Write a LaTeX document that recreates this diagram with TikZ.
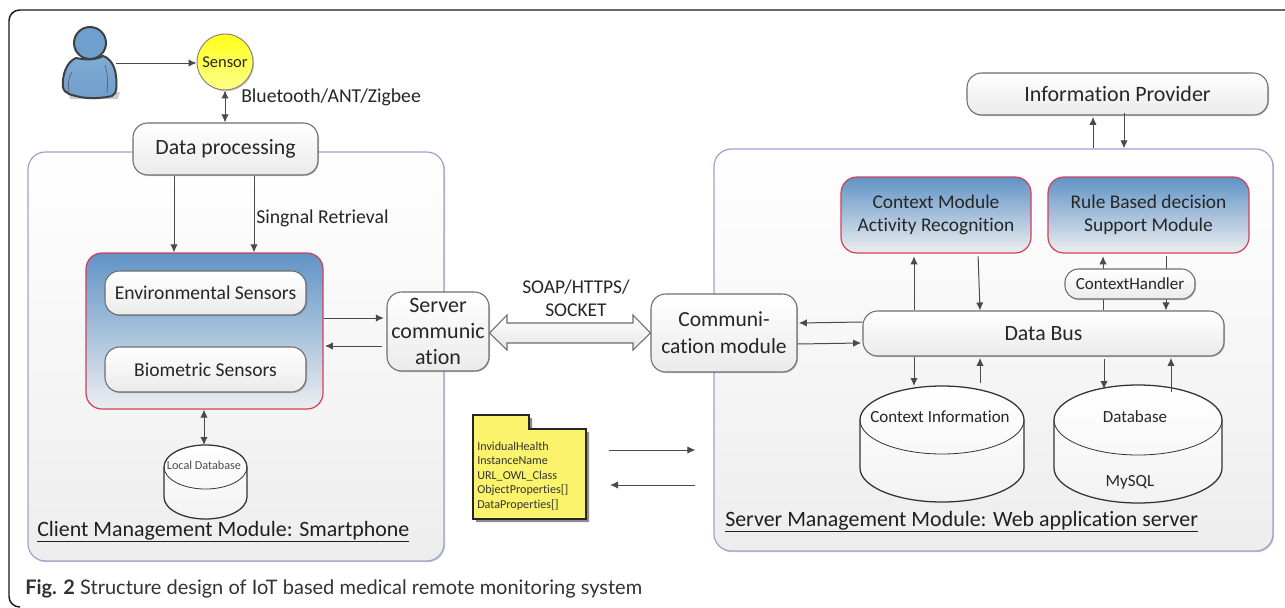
\documentclass[tikz,border=0pt]{standalone}
\usepackage{fontspec}
\setmainfont[RawFeature={-liga,-clig}]{Carlito}
\newfontfamily\capfont{Lato}
\usetikzlibrary{arrows.meta,calc,shadows}
\definecolor{linegrey}{HTML}{4A4A4A}
\definecolor{boxedge}{HTML}{6E6E6E}
\definecolor{paneledge}{HTML}{9AA5CC}
\definecolor{rededge}{HTML}{D0405A}
\definecolor{bluetop}{HTML}{6093C6}
\definecolor{bluebot}{HTML}{ECEEF0}
\definecolor{folderfill}{HTML}{FBF36C}
\definecolor{personblue}{HTML}{6F9FCC}
\definecolor{personlight}{HTML}{7FABD4}
\newcommand{\fpx}[1]{\pgfmathsetmacro\fszpt{#1*0.75}\fontsize{\fszpt}{\fszpt}\selectfont}
\newcommand{\pxbox}[7]{%
  \pgfmathsetmacro\bcx{(#3+#5)/2}\pgfmathsetmacro\bcy{(#4+#6)/2}%
  \pgfmathsetmacro\bw{(#5-#3)*0.75}\pgfmathsetmacro\bh{(#6-#4)*0.75}%
  \node[#2,minimum width=\bw pt,minimum height=\bh pt] (#1) at (\bcx,\bcy) {#7};}
\newcommand{\pxcyl}[6]{% name, cx, rx, top, ry, bottom
  \pgfmathsetmacro\yta{#4+#5}\pgfmathsetmacro\ytb{#6-#5}%
  \pgfmathsetmacro\rxp{#3*0.75}\pgfmathsetmacro\ryp{#5*0.75}%
  \pgfmathsetmacro\xl{#2-#3}\pgfmathsetmacro\xr{#2+#3}%
  \path[cylfill] (\xl,\yta) -- (\xl,\ytb) arc[start angle=180,end angle=360,x radius=\rxp pt,y radius=\ryp pt]
    -- (\xr,\yta) arc[start angle=0,end angle=180,x radius=\rxp pt,y radius=\ryp pt] -- cycle;
  \draw[cylline] (\xl,\yta) -- (\xl,\ytb) arc[start angle=180,end angle=360,x radius=\rxp pt,y radius=\ryp pt]
    -- (\xr,\yta) arc[start angle=0,end angle=180,x radius=\rxp pt,y radius=\ryp pt];
  \draw[cylline,line width=0.6pt] (\xl,\yta) arc[start angle=180,end angle=360,x radius=\rxp pt,y radius=\ryp pt];
  \pgfmathsetmacro\bcy{(#4+#6)/2}\pgfmathsetmacro\bw{2*#3*0.75}\pgfmathsetmacro\bh{(#6-#4)*0.75}%
  \node[inner sep=0pt,outer sep=0pt,minimum width=\bw pt,minimum height=\bh pt] (#1) at (#2,\bcy) {};}
\tikzset{
  softshadow/.style={drop shadow={shadow xshift=0.8pt,shadow yshift=-0.9pt,opacity=.22,fill=black}},
  panelbox/.style={rectangle,rounded corners=13pt,draw=paneledge,line width=0.9pt,top color=white,bottom color=black!7,softshadow,inner sep=0pt},
  whitebox/.style={rectangle,rounded corners=11pt,draw=boxedge,line width=0.8pt,top color=white,bottom color=black!8,softshadow,inner sep=0pt,align=center,text=black!85,font=\fpx{21.8}},
  bluebox/.style={rectangle,rounded corners=12pt,draw=rededge,line width=0.9pt,top color=bluetop,bottom color=bluebot,inner sep=0pt,align=center,text=black!85,font=\fpx{19.4}},
  cylfill/.style={top color=white,bottom color=black!5},
  cylline/.style={draw=black!80,line width=0.95pt},
  arr/.style={draw=linegrey,line width=0.75pt,-{Latex[length=6pt,width=5.5pt]}},
  darr/.style={draw=linegrey,line width=0.75pt,{Latex[length=6pt,width=5.5pt]}-{Latex[length=6pt,width=5.5pt]}},
  lab/.style={inner sep=0pt,text=black!85,align=center,font=\fpx{19.7}},
  panellab/.style={inner sep=0pt,text=black!88,anchor=base west,font=\fpx{21.9}},
}
\begin{document}
\begin{tikzpicture}[x=0.75pt,y=-0.75pt]
\useasboundingbox (0,0) rectangle (1285,607);
\fill[white] (0,0) rectangle (1285,607);
% outer frame
\draw[black!90,line width=1.1pt,rounded corners=8pt] (1295,10) -- (9,10) -- (9,607) -- (20,607);
% panels
\pxbox{clientpanel}{panelbox}{28}{152}{444}{561}{}
\pxbox{serverpanel}{panelbox}{714}{149}{1273}{551}{}
% person
\fill[black!20] (68,92) -- (120,92) -- (118,99) -- (70,99) -- cycle;
\draw[top color=personlight,bottom color=personblue,draw=black!75,line width=1.5pt]
    (76,58) .. controls (66,62) and (62,76) .. (63,87)
    .. controls (64,94) and (72,95) .. (80,97)
    .. controls (90,99) and (104,98) .. (112,96)
    .. controls (117,94) and (117,85) .. (116,76)
    .. controls (115,66) and (110,58) .. (103,56)
    .. controls (96,60) and (84,60) .. (76,58) -- cycle;
\draw[line width=0.6pt,draw=black!60] (72,72) .. controls (68,78) and (68,84) .. (69,92);
\draw[line width=0.6pt,draw=black!60] (105,65) .. controls (108,74) and (108,84) .. (107,93);
\node[circle,minimum size=24pt,inner sep=0pt,draw=black!75,line width=1.5pt,fill=personblue] (person) at (90,43) {};
\coordinate (personhand) at (116,63);
% sensor
\node[circle,minimum size=42pt,inner sep=0pt,draw=black!50,line width=0.7pt,top color=yellow!90!white,bottom color=yellow!45!white,softshadow,font=\fpx{16.5},text=black!85] (sensor) at (225,62) {Sensor};
% top-left boxes
\pxbox{dataproc}{whitebox}{133}{123}{318}{175}{Data processing}
\pxbox{sensorgroup}{bluebox}{86}{253}{323}{409}{}
\pxbox{envsens}{whitebox,font=\fpx{19.6}}{105}{271}{306}{315}{Environmental Sensors}
\pxbox{biosens}{whitebox,font=\fpx{19.6}}{105}{347}{306}{392}{Biometric Sensors}
\pxbox{servercomm}{whitebox,font=\fpx{22}}{387}{292}{489}{371}{Server\\[3pt]communic\\[3pt]ation}
\pxbox{commmod}{whitebox,font=\fpx{21.5}}{651}{294}{797}{372}{Communi-\\[4pt]cation module}
% right boxes
\pxbox{infoprov}{whitebox,font=\fpx{22}}{967}{73}{1268}{115}{Information Provider}
\pxbox{contextmod}{bluebox}{841}{177}{1031}{253}{Context Module\\[2.5pt]Activity Recognition}
\pxbox{rulemod}{bluebox}{1048}{177}{1249}{253}{Rule Based decision\\[2.5pt]Support Module}
\pxbox{databus}{whitebox}{863}{311}{1224}{356}{Data Bus}
% cylinders
\pxcyl{localdb}{205.5}{41.5}{445}{22}{519}
\pxcyl{contextinfo}{942}{82}{386}{34}{502}
\pxcyl{mysqldb}{1138}{84}{385}{35}{503}
\node[lab,font=\fpx{12.2},text=black!70] (localdblabel) at (204,465) {Local Database};
\node[lab,font=\fpx{17}] (contextinfolabel) at (940,417) {Context Information};
\node[lab,font=\fpx{17}] (mysqldblabel) at (1135,417) {Database};
\node[lab,font=\fpx{17}] (mysqllabel) at (1130,482) {MySQL};
% arrows top-left
\draw[arr] (personhand) -- (sensor.west |- personhand);
\draw[darr] (dataproc.north -| sensor.south) -- (sensor.south);
\draw[arr] (dataproc.south -| 174,0) -- (sensorgroup.north -| 174,0);
\draw[arr] (dataproc.south -| 254,0) -- (sensorgroup.north -| 254,0);
\draw[arr] (sensorgroup.east |- 0,318) -- ([xshift=-2pt]servercomm.west |- 0,318);
\draw[arr] ([xshift=-3pt]servercomm.west |- 0,346) -- ([xshift=1pt]sensorgroup.east |- 0,346);
\draw[darr] (sensorgroup.south -| 204,0) -- (localdb.north -| 204,0);
% double arrow
\draw[draw=boxedge,line width=0.8pt,top color=white,bottom color=black!10]
  (servercomm.east |- 0,333) -- (507,315) -- (507,323) -- (633,323) -- (633,315) -- (commmod.west |- 0,333)
  -- (633,350) -- (633,343) -- (507,343) -- (507,350) -- cycle;
% comm arrows
\draw[arr] (databus.west |- 0,322) -- ([xshift=1pt]commmod.east |- 0,323);
\draw[arr] (commmod.east |- 0,344) -- ([xshift=-1pt]databus.west |- 0,343);
% info provider
\draw[arr,shorten >=1pt] (serverpanel.north -| 1093,0) -- (infoprov.south -| 1093,0);
\draw[arr] ([yshift=2pt]infoprov.south -| 1124,0) -- (serverpanel.north -| 1124,0);
% context module
\draw[arr,shorten >=2pt] (databus.north -| 914,0) -- (contextmod.south -| 914,0);
\draw[arr,shorten <=2pt] (contextmod.south -| 978,0) -- (databus.north -| 980,0);
% rule module
\draw[arr,shorten >=2pt] (databus.north -| 1103,0) -- (rulemod.south -| 1103,0);
\draw[arr,shorten <=2pt] (rulemod.south -| 1166,0) -- (databus.north -| 1166,0);
\pxbox{ctxhandler}{whitebox,rounded corners=10pt,font=\fpx{17}}{1065}{269}{1195}{299}{ContextHandler}
% lower arrows
\draw[arr] (databus.south -| 914,0) -- (contextinfo.north -| 914,0);
\draw[arr,shorten <=2pt,shorten >=1pt] (contextinfo.north -| 980,0) -- (databus.south -| 980,0);
\draw[arr,shorten <=2pt,shorten >=-3pt] (databus.south -| 1104,0) -- (mysqldb.north -| 1104,0);
\draw[arr,shorten <=-5pt,shorten >=1pt] (mysqldb.north -| 1171,0) -- (databus.south -| 1171,0);
% folder
\fill[black!45] (476,418) -- (532,418) -- (532,432) -- (589,432) -- (589,522) -- (476,522) -- cycle;
\draw[draw=black!85,line width=0.9pt,fill=folderfill] (473,415) -- (529,415) -- (529,429) -- (586,429) -- (586,519) -- (473,519) -- cycle;
\node[inner sep=0pt,anchor=north west,align=left,text=black!80,font=\fontsize{9.1}{10.95}\selectfont] (ontology) at (477,441.5) {InvidualHealth\\InstanceName\\URL\_OWL\_Class\\ObjectProperties[]\\DataProperties[]};
\coordinate (ontoout) at (609,450);
\coordinate (ontoin) at (610,485);
\draw[arr] (ontoout) -- ([xshift=-13.5pt]serverpanel.west |- ontoout);
\draw[arr] ([xshift=-13.5pt]serverpanel.west |- ontoin) -- (ontoin);
% labels
\node[lab,anchor=west] (btlabel) at (241,97) {Bluetooth/ANT/Zigbee};
\node[lab,anchor=west] (signallabel) at (256,218) {Singnal Retrieval};
\node[lab,font=\fpx{19.5}] (soaplabel) at (576,298.5) {SOAP/HTTPS/\\[2.5pt]SOCKET};
\node[panellab] (clientlabel) at (37,536) {\underline{Client Management Module: Smartphone}};
\node[panellab] (serverlabel) at (725,526) {\underline{Server Management Module: Web application server}};
\node[inner sep=0pt,anchor=west,text=black!80,font=\capfont\fpx{20}] (caption) at (25,589) {\textbf{Fig. 2} Structure design of IoT based medical remote monitoring system};
\end{tikzpicture}
\end{document}
